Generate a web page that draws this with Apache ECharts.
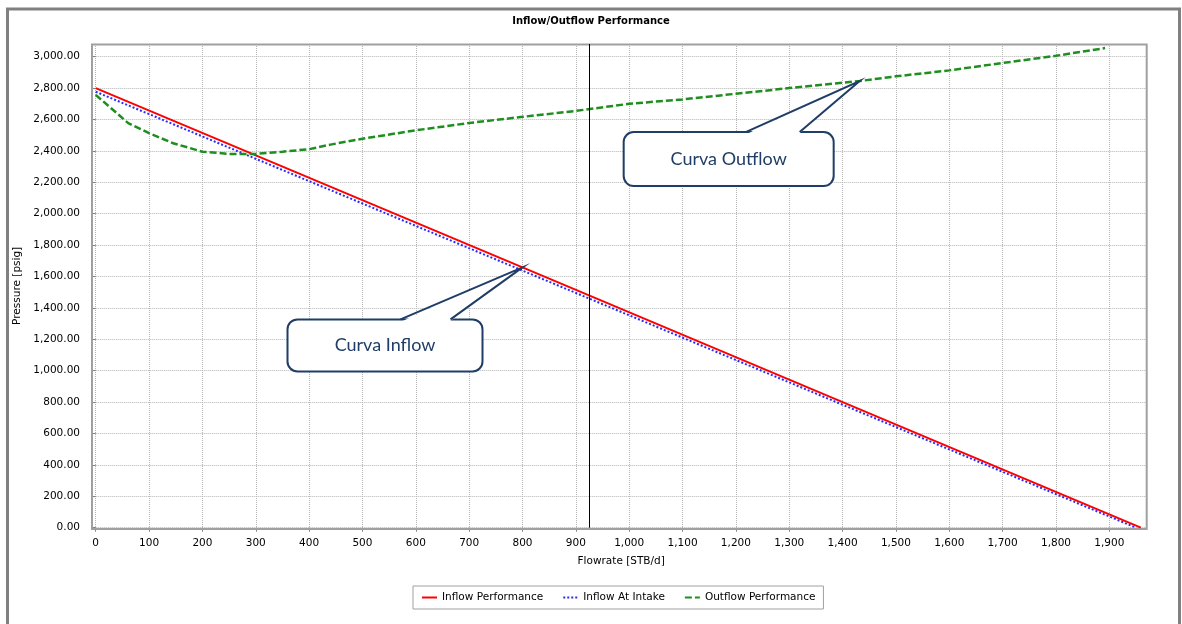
<!DOCTYPE html>
<html><head><meta charset="utf-8">
<script src="https://cdn.jsdelivr.net/npm/echarts@6/dist/echarts.min.js"></script>
<style>html,body{margin:0;padding:0;background:#fff}#c{width:1182px;height:624px}</style>
</head><body><div id="c"></div>
<script>
const chartTitle = 'Inflow/Outflow Performance';
const xAxisName = 'Flowrate [STB/d]';
const yAxisName = 'Pressure [psig]';
const seriesNames = ['Inflow Performance', 'Inflow At Intake', 'Outflow Performance'];
const inflowRate = [0, 800, 1959];
const inflowPressure = [2800, 1658, 0];
const intakeRate = [0, 1950];
const intakePressure = [2777, 0];
const outflowRate = [0, 61, 100, 145, 200, 250, 300, 350, 400, 440, 500, 600, 700, 800, 900, 1000, 1100, 1200, 1300, 1432, 1500, 1600, 1700, 1800, 1892];
const outflowPressure = [2757, 2577, 2513, 2449, 2395, 2381, 2381, 2395, 2411, 2440, 2478, 2531, 2578, 2617, 2655, 2700, 2728, 2764, 2800, 2845, 2875, 2913, 2960, 3006, 3055];
const operatingRate = 925;
const calloutTexts = ['Curva Inflow', 'Curva Outflow'];
const calloutAnchors = [[800, 1658], [1432, 2845]];

const FONT = 'DejaVu Sans';
const pairs = (xs, ys) => xs.map((x, i) => [x, ys[i]]);
const chart = echarts.init(document.getElementById('c'), null, {renderer: 'canvas'});

const GRID = {left: 95.7, right: 35.3, top: 44, bottom: 96.3};

const option = {
  animation: false,
  backgroundColor: '#fff',
  title: {
    text: chartTitle, left: 'center', top: 11,
    textStyle: {fontFamily: FONT, fontSize: 10, fontWeight: 'bold', color: '#000'}
  },
  grid: GRID,
  legend: {
    left: 413, top: 586,
    padding: [6, 8, 6, 8],
    borderColor: '#a0a0a0', borderWidth: 1,
    itemWidth: 15, itemHeight: 10, itemGap: 19,
    itemStyle: {opacity: 0},
    textStyle: {fontFamily: FONT, fontSize: 10.5, color: '#000'},
    data: seriesNames
  },
  xAxis: {
    type: 'value', min: 0, max: 1970, interval: 100, offset: 1.3,
    name: xAxisName, nameLocation: 'middle', nameGap: 27,
    nameTextStyle: {fontFamily: FONT, fontSize: 10.5, color: '#000'},
    axisLine: {show: false},
    axisTick: {show: true, length: 4, lineStyle: {color: '#808080'}},
    axisLabel: {
      fontFamily: FONT, fontSize: 10.5, color: '#000', margin: 9, showMaxLabel: false,
      formatter: v => v.toLocaleString('en-US')
    },
    splitLine: {show: true, lineStyle: {color: '#b4b4b4', type: [1, 1], width: 1}}
  },
  yAxis: {
    type: 'value', min: 0, max: 3081, interval: 200, offset: 4.7,
    name: yAxisName, nameLocation: 'middle', nameGap: 62,
    nameTextStyle: {fontFamily: FONT, fontSize: 10.5, color: '#000'},
    axisLine: {show: false},
    axisTick: {show: true, length: 4, lineStyle: {color: '#808080'}},
    axisLabel: {
      fontFamily: FONT, fontSize: 10.5, color: '#000', margin: 11, showMaxLabel: false,
      formatter: v => v.toLocaleString('en-US', {minimumFractionDigits: 2, maximumFractionDigits: 2})
    },
    splitLine: {show: true, lineStyle: {color: '#b4b4b4', type: [1, 1], width: 1}}
  },
  series: [
    {
      name: seriesNames[0], type: 'line', symbol: 'none', silent: true,
      data: pairs(inflowRate, inflowPressure),
      lineStyle: {color: '#ff0000', width: 2, type: 'solid'},
      itemStyle: {color: '#ff0000'},
      z: 3,
      markLine: {
        symbol: 'none', silent: true, label: {show: false},
        lineStyle: {color: '#000', width: 1, type: 'solid'},
        data: [{xAxis: operatingRate}]
      }
    },
    {
      name: seriesNames[1], type: 'line', symbol: 'none', silent: true,
      data: pairs(intakeRate, intakePressure),
      lineStyle: {color: '#2a2aff', width: 2, type: [2, 2]},
      itemStyle: {color: '#2a2aff'},
      z: 2
    },
    {
      name: seriesNames[2], type: 'line', symbol: 'none', silent: true,
      data: pairs(outflowRate, outflowPressure),
      lineStyle: {color: '#1e8f1e', width: 2.5, type: [7, 3]},
      itemStyle: {color: '#1e8f1e'},
      z: 4
    }
  ]
};
chart.setOption(option);

// frame and plot border (layout only)
const gl = GRID.left - 4.7, gr = 1182 - GRID.right, gt = GRID.top, gb = 624 - GRID.bottom + 1.3;
const graphics = [
  {type: 'rect', silent: true, z: 0, shape: {x: 7.5, y: 9, width: 1172, height: 640},
   style: {fill: 'none', stroke: '#808080', lineWidth: 3}},
  {type: 'rect', silent: true, z: 1, shape: {x: gl + 1, y: gt + 0.5, width: gr - gl - 1, height: gb - gt - 0.5},
   style: {fill: 'none', stroke: '#a0a0a0', lineWidth: 2}}
];

// callout boxes, anchored to data points
const boxLayouts = [
  {dx: -235, dy: 52, w: 195, h: 52, wl: 113, wr: 163},
  {dx: -236, dy: 51, w: 210, h: 54, wl: 122, wr: 176}
];
const NAVY = '#1f3d66';
calloutAnchors.forEach((a, i) => {
  const p = chart.convertToPixel({gridIndex: 0}, a);
  const b = boxLayouts[i];
  const L = p[0] + b.dx, T = p[1] + b.dy;
  graphics.push(
    {type: 'rect', silent: true, z: 100, shape: {x: L, y: T, width: b.w, height: b.h, r: 10},
     style: {fill: '#fff', stroke: NAVY, lineWidth: 2}},
    {type: 'polygon', silent: true, z: 101,
     shape: {points: [[L + b.wl + 1, T + 2], [p[0], p[1]], [L + b.wr - 1, T + 2]]},
     style: {fill: '#fff', stroke: 'none'}},
    {type: 'polyline', silent: true, z: 102,
     shape: {points: [[L + b.wl, T], [p[0], p[1]], [L + b.wr, T]]},
     style: {fill: 'none', stroke: NAVY, lineWidth: 2}},
    {type: 'text', silent: true, z: 103, x: L + b.w / 2, y: T + b.h / 2,
     style: {text: calloutTexts[i], fill: NAVY, font: '18px Lato', align: 'center', verticalAlign: 'middle'}}
  );
});
chart.setOption({graphic: {elements: graphics}});
</script>
</body></html>
